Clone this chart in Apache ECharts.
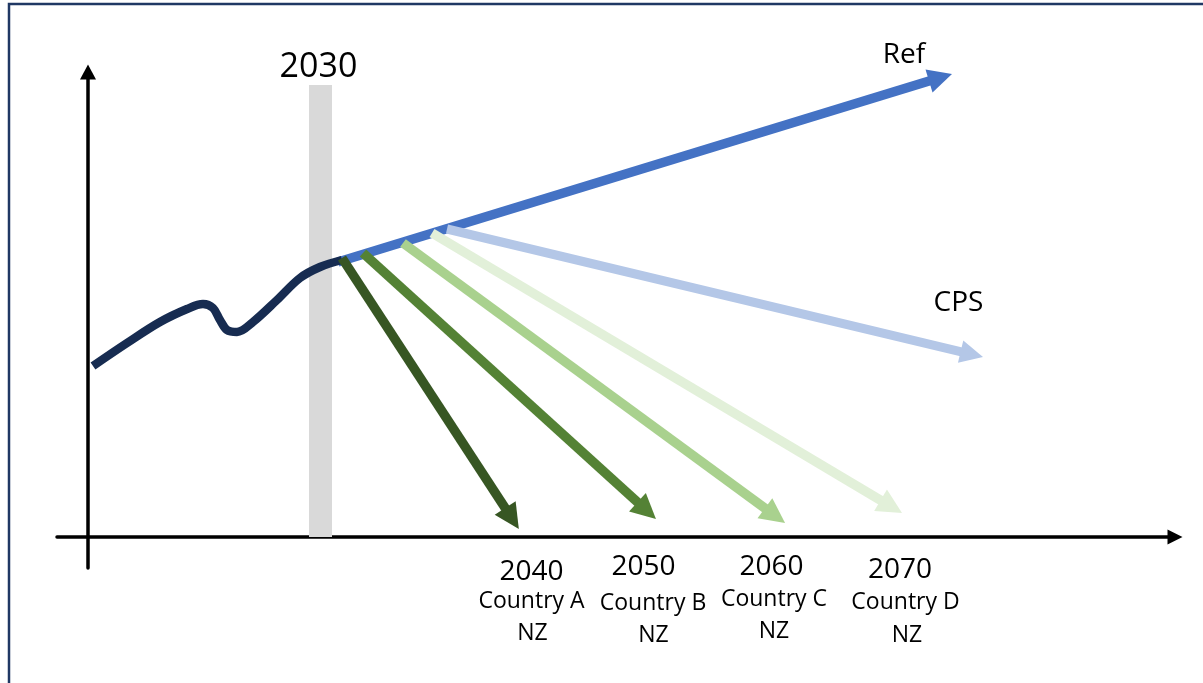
<!DOCTYPE html>
<html>
<head>
<meta charset="utf-8">
<script src="https://cdn.jsdelivr.net/npm/echarts@6/dist/echarts.min.js"></script>
<style>
html,body{margin:0;padding:0;background:#fff;}
#chart{width:1203px;height:683px;}
</style>
</head>
<body>
<div id="chart"></div>
<script>
// Schematic values (x: time units from origin, y: emissions units from origin)
const historical = [[5,171],[39,194],[72,215],[99,228],[115,233],[125,229],[132,217],[139,207],[149,205],[165,215],[189,237],[212,259],[232,270],[254,277]];
const refPath = [[250,275],[852.5,459.5]];
const cpsPath = [[359,308],[883.8,182.7]];
const nzNames = ['Country A','Country B','Country C','Country D'];
const nzYears = ['2040','2050','2060','2070'];
const nzPaths = [
  [[254,279],[424,18.5]],
  [[275,284],[558.7,26.4]],
  [[315,294],[687,21.4]],
  [[344,304],[803.3,30.4]]
];
const nzColors = ['#375623','#548235','#A9D18E','#E2F0D9'];
const band2030 = [221,244,0,452];
const yearLabelPos = [[443.5,-35],[555.5,-30.5],[683.5,-30.5],[812,-33]];
const countryLabelPos = [[443.5,-64.5],[565,-66],[686,-62.5],[817.5,-65]];
const nzLabelPos = [[444.5,-96],[565.5,-98],[686,-94],[819,-98]];
const scenarioLabels = [['2030',[230.5,470],34],['Ref',[816,482],28],['CPS',[870.5,234],28]];

const FONT = 'Open Sans';
const chart = echarts.init(document.getElementById('chart'));

function arrowSeries(name, path, color, width, size, z) {
  return {
    name: name,
    type: 'lines',
    coordinateSystem: 'cartesian2d',
    clip: false,
    silent: true,
    z: z,
    symbol: ['none','triangle'],
    symbolSize: size,
    lineStyle: {color: color, width: width, opacity: 1, cap: 'butt'},
    data: [{coords: path}]
  };
}

const labelData = [];
function addLabel(pos, text, size) {
  labelData.push({value: pos, label: {formatter: text, fontSize: size, color: '#000000'}});
}
scenarioLabels.forEach(function (s) { addLabel(s[1], s[0], s[2]); });
nzYears.forEach(function (y, i) {
  addLabel(yearLabelPos[i], y, 28);
  addLabel(countryLabelPos[i], nzNames[i], 23);
  addLabel(nzLabelPos[i], 'NZ', 23);
});

const series = [
  {
    name: '2030',
    type: 'line',
    data: [],
    z: 1,
    silent: true,
    markArea: {
      silent: true,
      itemStyle: {color: '#D9D9D9', opacity: 1},
      data: [[{coord: [band2030[0], band2030[2]]}, {coord: [band2030[1], band2030[3]]}]]
    }
  },
  arrowSeries('Ref', refPath, '#4472C4', 9.5, [23, 24], 3),
  {
    name: 'Historical',
    type: 'line',
    data: historical,
    smooth: 0.35,
    showSymbol: false,
    silent: true,
    clip: false,
    z: 4,
    lineStyle: {color: '#172C51', width: 8.5, cap: 'butt'}
  },
  arrowSeries('CPS', cpsPath, '#B4C7E7', 9, [23, 23], 5)
];
for (let i = nzPaths.length - 1; i >= 0; i--) {
  series.push(arrowSeries(nzNames[i] + ' NZ', nzPaths[i], nzColors[i], 9.5, [23, 25], 6 + (nzPaths.length - i)));
}
series.push({
  name: 'labels',
  type: 'scatter',
  data: labelData,
  symbolSize: 0,
  clip: false,
  silent: true,
  z: 20,
  label: {
    show: true,
    position: [0, 0],
    align: 'center',
    verticalAlign: 'middle',
    color: '#000000',
    opacity: 1,
    textBorderWidth: 0,
    fontFamily: FONT
  }
});

chart.setOption({
  animation: false,
  backgroundColor: '#fff',
  grid: {left: 57, right: 28, top: 72, bottom: 115, containLabel: false},
  xAxis: {
    type: 'value', min: -31, max: 1087,
    axisLine: {show: true, onZero: true, symbol: ['none','triangle'], symbolSize: [15, 15], lineStyle: {color: '#000', width: 3.5}},
    axisTick: {show: false}, axisLabel: {show: false}, splitLine: {show: false}
  },
  yAxis: {
    type: 'value', min: -31, max: 465,
    axisLine: {show: true, onZero: true, symbol: ['none','triangle'], symbolSize: [16, 15], lineStyle: {color: '#000', width: 3.5}},
    axisTick: {show: false}, axisLabel: {show: false}, splitLine: {show: false}
  },
  graphic: [{
    type: 'rect',
    silent: true,
    z: 100,
    shape: {x: 9, y: 4, width: 1230, height: 720},
    style: {fill: 'none', stroke: '#203864', lineWidth: 2.5}
  }],
  series: series
});
</script>
</body>
</html>
